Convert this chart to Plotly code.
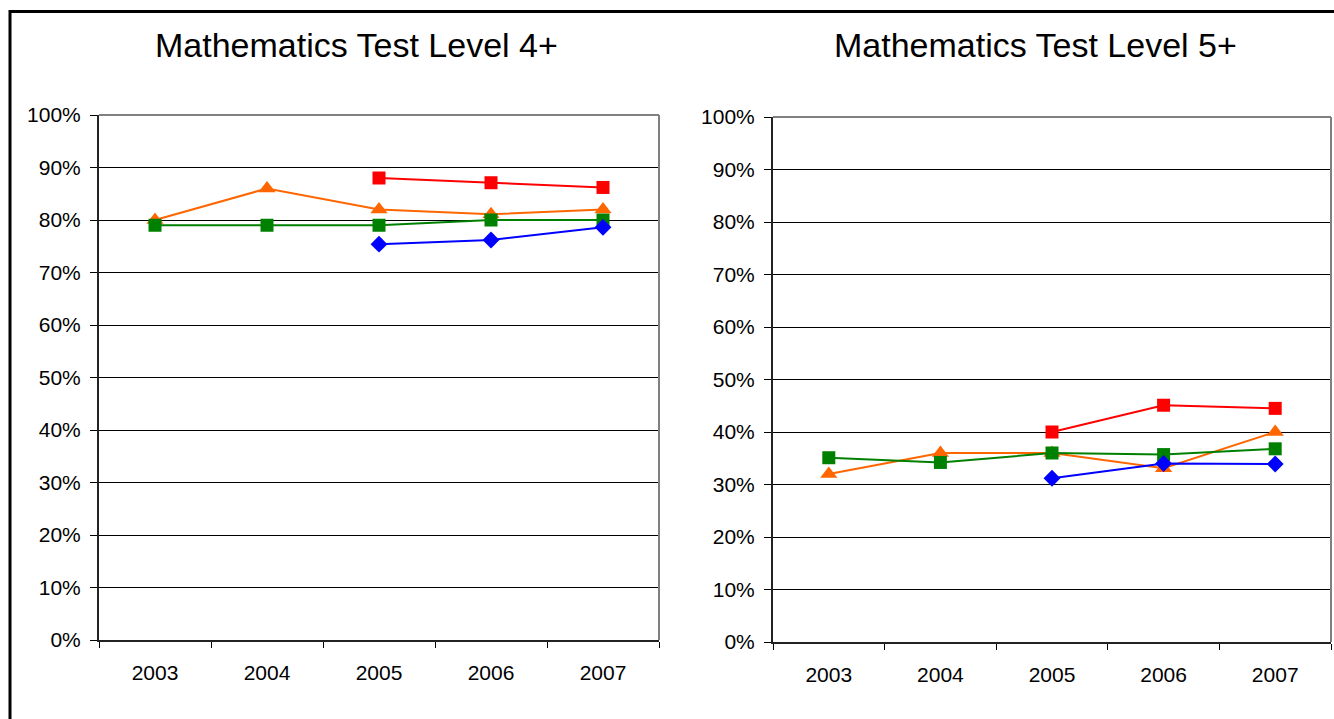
import plotly.graph_objects as go

W, H = 1334, 719

years = ["2003", "2004", "2005", "2006", "2007"]
y_ticks = [0, 0.1, 0.2, 0.3, 0.4, 0.5, 0.6, 0.7, 0.8, 0.9, 1.0]
y_tick_text = ["0%", "10%", "20%", "30%", "40%", "50%", "60%", "70%", "80%", "90%", "100%"]

titles = ["Mathematics Test Level 4+", "Mathematics Test Level 5+"]

# Level 4+ series (None = no value for that year)
red_l4 = [None, None, 0.88, 0.871, 0.862]
orange_l4 = [0.80, 0.86, 0.82, 0.811, 0.82]
green_l4 = [0.79, 0.79, 0.79, 0.80, 0.80]
blue_l4 = [None, None, 0.754, 0.762, 0.786]

# Level 5+ series
red_l5 = [None, None, 0.40, 0.451, 0.445]
orange_l5 = [0.32, 0.36, 0.36, 0.331, 0.40]
green_l5 = [0.351, 0.342, 0.36, 0.357, 0.368]
blue_l5 = [None, None, 0.312, 0.340, 0.339]

styles = [
    ("#FF0000", "square", 13),
    ("#FF6600", "triangle-up", 15),
    ("#008000", "square", 13),
    ("#0000FF", "diamond", 13),
]

FONT = "Arial, Liberation Sans, sans-serif"

fig = go.Figure()

panels = [
    ("x", "y", [red_l4, orange_l4, green_l4, blue_l4]),
    ("x2", "y2", [red_l5, orange_l5, green_l5, blue_l5]),
]
for xa, ya, series in panels:
    for vals, (col, sym, sz) in zip(series, styles):
        fig.add_trace(go.Scatter(
            x=years, y=vals, xaxis=xa, yaxis=ya, mode="lines+markers",
            line=dict(color=col, width=2),
            marker=dict(color=col, symbol=sym, size=sz, line=dict(width=0)),
            connectgaps=False, showlegend=False, hoverinfo="x+y",
        ))

# plot-area boxes in pixels: (left, right, top, bottom)
boxes = [(99, 659, 115, 640), (773, 1331, 117, 642)]


def px(v):
    return v / W


def py(v):
    return 1 - v / H


axis_common_x = dict(
    type="category", range=[-0.5, 4.5], tickson="boundaries",
    ticks="outside", ticklen=6, tickcolor="#000000", tickwidth=1,
    showgrid=False, showline=True, linecolor="#222222", linewidth=2,
    tickfont=dict(family=FONT, size=21, color="#000000"),
    ticklabelstandoff=13, zeroline=False, fixedrange=True, automargin=False,
)
axis_common_y = dict(
    range=[0, 1], tickvals=y_ticks, ticktext=y_tick_text,
    ticks="outside", ticklen=7, tickcolor="#000000", tickwidth=1,
    showgrid=True, gridcolor="#000000", gridwidth=1,
    showline=True, linecolor="#222222", linewidth=2,
    tickfont=dict(family=FONT, size=21, color="#000000"),
    ticklabelstandoff=5, zeroline=False, fixedrange=True, automargin=False,
)

(l1, r1, t1, b1), (l2, r2, t2, b2) = boxes
fig.update_layout(
    width=W, height=H,
    margin=dict(l=0, r=0, t=0, b=0, pad=0, autoexpand=False),
    showlegend=False,
    paper_bgcolor="#FFFFFF", plot_bgcolor="#FFFFFF",
    xaxis=dict(domain=[px(l1), px(r1)], anchor="y", **axis_common_x),
    yaxis=dict(domain=[py(b1), py(t1)], anchor="x", **axis_common_y),
    xaxis2=dict(domain=[px(l2), px(r2)], anchor="y2", **axis_common_x),
    yaxis2=dict(domain=[py(b2), py(t2)], anchor="x2", **axis_common_y),
)

shapes = []
# gray top and right edges of each plot area
for (l, r, t, b) in boxes:
    shapes.append(dict(type="line", xref="paper", yref="paper",
                       x0=px(l), x1=px(r), y0=py(t), y1=py(t),
                       line=dict(color="#808080", width=2), layer="above"))
    shapes.append(dict(type="line", xref="paper", yref="paper",
                       x0=px(r), x1=px(r), y0=py(t), y1=py(b),
                       line=dict(color="#808080", width=2), layer="above"))
# outer frame around the whole chart area
shapes.append(dict(type="rect", xref="paper", yref="paper",
                   x0=px(10), x1=1.05, y0=-0.05, y1=py(11.5),
                   line=dict(color="#000000", width=3), layer="above"))
fig.update_layout(shapes=shapes)

annotations = []
for txt, cx in zip(titles, [356, 1035]):
    annotations.append(dict(text=txt, xref="paper", yref="paper",
                            x=px(cx), y=py(45), xanchor="center", yanchor="middle",
                            showarrow=False,
                            font=dict(family=FONT, size=34, color="#000000")))
fig.update_layout(annotations=annotations)

fig.write_html("out.html")
